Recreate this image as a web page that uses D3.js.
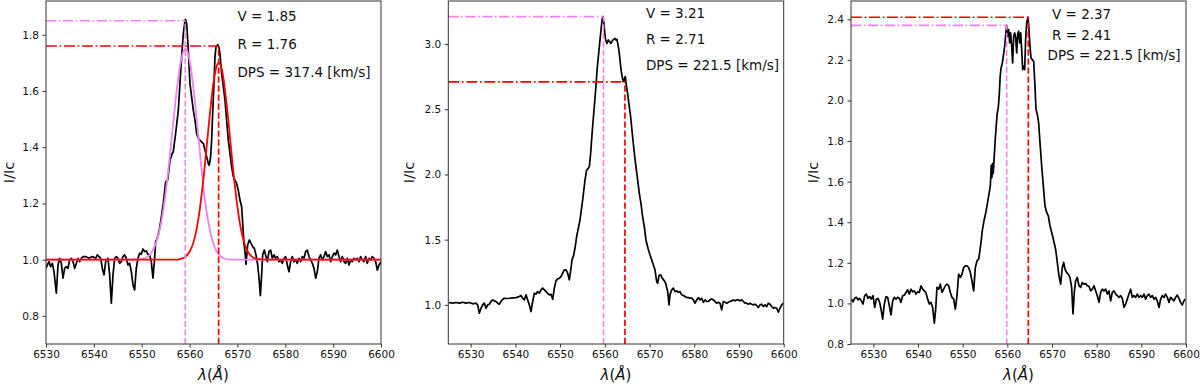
<!DOCTYPE html>
<html>
<head>
<meta charset="utf-8">
<script src="https://cdn.jsdelivr.net/npm/d3@7"></script>
<style>
  body { margin: 0; background: #fff; }
  svg text { font-family: "DejaVu Sans", sans-serif; fill: #111; }
</style>
</head>
<body>
<div id="chart"></div>
<script>
var spectrum1 = [[6530.0,0.969],[6530.28,0.981],[6530.63,0.993],[6530.97,0.975],[6531.32,0.987],[6531.67,0.957],[6532.16,0.881],[6532.51,0.981],[6532.86,1.005],[6533.2,0.987],[6533.55,0.934],[6533.9,0.969],[6534.25,0.975],[6534.6,0.969],[6534.94,0.999],[6535.29,1.005],[6535.64,0.993],[6535.99,0.969],[6536.34,0.987],[6536.69,1.005],[6537.03,0.993],[6537.38,1.005],[6537.73,1.011],[6538.29,1.011],[6538.98,1.005],[6539.68,1.011],[6540.38,1.005],[6540.72,1.017],[6541.07,1.011],[6541.42,1.005],[6541.77,0.969],[6542.12,0.946],[6542.47,0.993],[6542.95,1.005],[6543.3,0.946],[6543.65,0.845],[6544.0,0.946],[6544.35,1.005],[6544.69,1.011],[6545.04,1.005],[6545.39,0.987],[6545.74,0.993],[6546.09,1.011],[6546.43,1.017],[6546.78,1.005],[6547.13,0.981],[6547.48,0.987],[6547.83,0.957],[6548.18,0.91],[6548.52,0.892],[6548.87,0.969],[6549.22,1.005],[6549.57,1.023],[6549.92,1.019],[6550.26,1.038],[6550.61,1.029],[6550.96,1.031],[6551.31,1.019],[6551.66,1.017],[6552.0,0.993],[6552.35,0.934],[6552.7,1.005],[6552.91,1.064],[6553.26,1.076],[6553.61,1.1],[6554.0,1.14],[6554.51,1.2],[6555.0,1.277],[6555.42,1.283],[6555.91,1.354],[6556.39,1.378],[6556.6,1.384],[6557.09,1.449],[6557.65,1.532],[6557.99,1.626],[6558.34,1.721],[6558.69,1.804],[6559.0,1.845],[6559.15,1.855],[6559.4,1.84],[6559.74,1.745],[6560.08,1.626],[6560.43,1.579],[6560.78,1.532],[6561.13,1.496],[6561.48,1.449],[6561.82,1.431],[6562.17,1.425],[6562.52,1.419],[6562.87,1.413],[6563.22,1.39],[6563.57,1.366],[6563.91,1.342],[6564.12,1.336],[6564.4,1.366],[6564.61,1.425],[6564.82,1.52],[6565.1,1.626],[6565.31,1.721],[6565.52,1.757],[6565.9,1.765],[6566.2,1.75],[6566.35,1.733],[6566.7,1.662],[6567.05,1.615],[6567.4,1.567],[6567.74,1.496],[6568.09,1.425],[6568.44,1.378],[6568.79,1.33],[6569.14,1.295],[6569.48,1.283],[6569.83,1.271],[6570.18,1.247],[6570.53,1.212],[6570.88,1.188],[6571.1,1.13],[6571.35,1.06],[6571.58,1.028],[6571.79,0.983],[6572.14,1.052],[6572.49,1.07],[6572.84,1.058],[6573.18,1.046],[6573.53,1.04],[6573.88,1.017],[6574.23,0.981],[6574.58,0.922],[6574.79,0.872],[6575.06,0.946],[6575.27,1.017],[6575.62,1.034],[6575.97,1.011],[6576.25,0.993],[6576.6,1.029],[6576.94,1.034],[6577.29,1.005],[6577.64,1.017],[6577.99,1.005],[6578.34,1.011],[6578.69,0.993],[6579.03,0.999],[6579.38,0.987],[6579.73,1.005],[6580.08,1.011],[6580.43,0.981],[6580.77,0.957],[6581.12,0.993],[6581.47,1.011],[6581.82,0.993],[6582.17,0.999],[6582.51,0.987],[6582.86,1.005],[6583.21,0.993],[6583.56,1.011],[6583.91,1.005],[6584.26,1.029],[6584.6,1.034],[6584.95,1.011],[6585.3,0.999],[6585.65,0.987],[6586.0,0.969],[6586.35,0.934],[6586.69,0.957],[6587.04,1.005],[6587.39,1.017],[6587.74,0.999],[6588.09,1.011],[6588.43,1.029],[6588.78,1.011],[6589.13,1.017],[6589.48,0.993],[6589.83,1.011],[6590.18,1.023],[6590.52,1.017],[6590.87,1.034],[6591.22,1.011],[6591.57,0.993],[6591.92,1.011],[6592.27,0.993],[6592.61,0.987],[6592.96,1.005],[6593.31,0.981],[6593.66,0.999],[6594.01,0.993],[6594.35,1.005],[6594.7,0.999],[6595.05,1.005],[6595.4,0.993],[6595.75,1.011],[6596.1,0.999],[6596.44,0.993],[6596.79,1.011],[6597.14,0.987],[6597.49,1.005],[6597.84,0.999],[6598.18,1.011],[6598.53,1.005],[6598.88,0.993],[6599.23,0.963],[6599.58,0.981],[6600.0,0.993]];

var spectrum2 = [[6525.08,1.018],[6525.98,1.013],[6526.72,1.018],[6527.47,1.013],[6528.21,1.02],[6528.96,1.013],[6529.7,1.018],[6530.45,1.008],[6531.19,1.013],[6531.57,1.0],[6531.94,0.936],[6532.31,0.974],[6532.68,1.0],[6533.06,1.013],[6533.43,0.974],[6533.8,1.0],[6534.18,1.005],[6534.55,1.026],[6534.92,1.038],[6535.29,1.031],[6535.67,1.026],[6536.04,1.013],[6536.41,1.005],[6536.78,1.026],[6537.16,1.043],[6537.53,1.051],[6537.9,1.049],[6538.65,1.051],[6539.39,1.054],[6540.14,1.056],[6540.88,1.064],[6541.26,1.072],[6541.63,1.051],[6542.0,1.038],[6542.38,1.077],[6542.75,1.038],[6543.12,1.0],[6543.49,0.949],[6543.87,1.026],[6544.24,1.089],[6544.61,1.082],[6544.98,1.102],[6545.36,1.089],[6545.73,1.115],[6546.1,1.128],[6546.47,1.115],[6546.85,1.102],[6547.22,1.089],[6547.59,1.077],[6547.97,1.082],[6548.34,1.043],[6548.71,1.128],[6549.08,1.184],[6549.46,1.199],[6549.83,1.204],[6550.2,1.217],[6550.57,1.243],[6550.95,1.268],[6551.32,1.268],[6551.69,1.243],[6552.06,1.192],[6552.44,1.281],[6552.66,1.345],[6553.0,1.376],[6553.33,1.434],[6553.7,1.524],[6554.45,1.651],[6555.05,1.805],[6555.57,1.958],[6555.94,2.034],[6556.31,2.047],[6556.54,2.06],[6556.83,2.162],[6557.21,2.341],[6557.58,2.494],[6557.95,2.648],[6558.33,2.826],[6558.7,2.954],[6559.07,3.082],[6559.37,3.184],[6559.6,3.21],[6559.8,3.158],[6560.0,3.082],[6560.19,3.031],[6560.48,3.005],[6560.78,3.031],[6561.08,3.018],[6561.38,3.005],[6561.68,3.026],[6561.98,3.036],[6562.28,3.043],[6562.5,3.031],[6562.72,3.036],[6563.02,2.98],[6563.24,2.928],[6563.47,2.852],[6563.69,2.788],[6563.91,2.745],[6564.13,2.711],[6564.36,2.729],[6564.58,2.75],[6564.8,2.686],[6565.09,2.622],[6565.47,2.52],[6565.77,2.443],[6566.14,2.315],[6566.52,2.188],[6566.96,2.06],[6567.34,1.958],[6567.71,1.856],[6568.08,1.779],[6568.45,1.677],[6568.83,1.6],[6569.2,1.498],[6569.65,1.434],[6570.11,1.383],[6570.48,1.345],[6570.85,1.307],[6571.22,1.268],[6571.6,1.179],[6571.82,1.166],[6572.12,1.225],[6572.49,1.23],[6572.86,1.204],[6573.31,1.184],[6573.61,1.166],[6573.83,1.133],[6574.06,1.102],[6574.36,1.0],[6574.58,1.077],[6574.95,1.115],[6575.32,1.128],[6575.7,1.102],[6576.07,1.107],[6576.44,1.097],[6576.81,1.102],[6577.19,1.077],[6577.56,1.072],[6577.93,1.064],[6578.31,1.056],[6578.68,1.056],[6579.05,1.051],[6579.42,1.051],[6579.8,1.038],[6580.17,1.013],[6580.54,1.038],[6580.92,1.056],[6581.29,1.038],[6581.66,1.051],[6582.03,1.02],[6582.41,1.038],[6582.78,1.026],[6583.15,1.026],[6583.52,1.038],[6583.9,1.046],[6584.27,1.038],[6584.64,1.026],[6585.01,1.013],[6585.39,1.02],[6585.76,1.013],[6586.13,0.962],[6586.5,1.026],[6586.88,1.02],[6587.25,1.013],[6587.62,1.02],[6587.99,1.026],[6588.37,1.031],[6588.74,1.038],[6589.11,1.031],[6589.49,1.038],[6589.86,1.038],[6590.23,1.031],[6590.6,1.038],[6590.98,1.026],[6591.35,1.013],[6591.72,1.013],[6592.09,1.005],[6592.47,1.013],[6592.84,1.005],[6593.21,1.0],[6593.59,1.005],[6593.96,0.995],[6594.33,0.98],[6594.7,1.0],[6595.08,1.005],[6595.45,0.987],[6595.82,1.0],[6596.19,0.987],[6596.57,1.013],[6596.94,1.005],[6597.31,0.987],[6597.69,0.974],[6598.06,0.98],[6598.43,0.974],[6598.8,0.944],[6599.18,0.974],[6599.55,1.0],[6599.92,1.013]];

var spectrum3 = [[6525.15,1.021],[6525.45,1.008],[6525.82,1.025],[6526.19,1.03],[6526.57,1.018],[6526.94,1.025],[6527.31,1.013],[6527.69,0.997],[6528.06,1.038],[6528.43,1.046],[6528.81,1.025],[6529.18,1.034],[6529.55,1.021],[6529.93,1.038],[6530.3,0.98],[6530.67,1.021],[6531.04,1.025],[6531.42,1.005],[6531.79,0.964],[6532.09,0.923],[6532.46,0.997],[6532.84,1.033],[6533.21,1.03],[6533.58,0.989],[6533.96,0.943],[6534.33,1.013],[6534.7,1.03],[6535.07,1.021],[6535.45,1.03],[6535.82,1.025],[6536.19,1.005],[6536.57,1.038],[6536.94,1.041],[6537.31,1.054],[6537.69,1.067],[6538.06,1.046],[6538.43,1.07],[6538.81,1.057],[6539.18,1.062],[6539.55,1.046],[6539.93,1.057],[6540.3,1.054],[6540.67,1.087],[6541.04,1.07],[6541.42,1.062],[6541.79,1.051],[6542.16,1.021],[6542.54,0.997],[6542.91,1.005],[6543.28,0.98],[6543.66,0.903],[6543.96,0.972],[6544.25,1.079],[6544.63,1.07],[6545.0,1.095],[6545.37,1.054],[6545.75,1.07],[6546.12,1.087],[6546.49,1.095],[6546.87,1.087],[6547.24,1.054],[6547.61,1.03],[6547.99,1.021],[6548.36,0.972],[6548.73,1.038],[6549.1,1.144],[6549.48,1.128],[6549.85,1.144],[6550.22,1.177],[6550.6,1.185],[6550.97,1.185],[6551.34,1.177],[6551.72,1.152],[6552.09,1.111],[6552.46,1.062],[6552.84,1.177],[6553.21,1.21],[6553.58,1.218],[6553.81,1.251],[6554.1,1.3],[6554.4,1.36],[6554.8,1.41],[6555.2,1.45],[6555.6,1.5],[6555.9,1.54],[6556.2,1.58],[6556.4,1.68],[6556.55,1.62],[6556.7,1.69],[6556.85,1.64],[6557.0,1.7],[6557.3,1.81],[6557.7,1.93],[6558.0,1.97],[6558.2,2.03],[6558.4,2.12],[6558.6,2.16],[6558.88,2.185],[6559.1,2.218],[6559.4,2.267],[6559.7,2.341],[6559.85,2.37],[6560.07,2.316],[6560.3,2.349],[6560.52,2.284],[6560.75,2.333],[6560.97,2.267],[6561.19,2.185],[6561.42,2.316],[6561.64,2.333],[6561.87,2.308],[6562.09,2.234],[6562.31,2.325],[6562.54,2.341],[6562.76,2.284],[6562.99,2.333],[6563.21,2.251],[6563.43,2.152],[6563.66,2.169],[6563.88,2.152],[6564.1,2.3],[6564.33,2.382],[6564.63,2.41],[6564.85,2.349],[6565.07,2.267],[6565.3,2.21],[6565.6,2.2],[6565.9,2.193],[6566.19,2.07],[6566.42,1.956],[6566.72,1.931],[6567.01,1.89],[6567.31,1.792],[6567.69,1.677],[6568.06,1.579],[6568.43,1.48],[6568.81,1.448],[6569.18,1.431],[6569.55,1.382],[6569.93,1.349],[6570.3,1.316],[6570.81,1.267],[6571.19,1.202],[6571.56,1.136],[6571.93,1.095],[6572.31,1.177],[6572.61,1.202],[6572.9,1.169],[6573.28,1.152],[6573.65,1.144],[6574.02,1.128],[6574.4,1.079],[6574.7,0.948],[6574.99,1.054],[6575.29,1.111],[6575.66,1.128],[6576.04,1.087],[6576.41,1.079],[6576.78,1.103],[6577.16,1.095],[6577.53,1.098],[6577.9,1.087],[6578.28,1.084],[6578.65,1.062],[6579.02,1.07],[6579.4,1.087],[6579.77,1.062],[6580.14,1.038],[6580.52,1.005],[6580.89,1.054],[6581.26,1.07],[6581.64,1.062],[6582.01,1.07],[6582.38,1.046],[6582.75,1.062],[6583.13,1.013],[6583.5,1.054],[6583.87,1.062],[6584.25,1.046],[6584.62,1.038],[6584.99,1.03],[6585.37,1.038],[6585.74,1.025],[6586.11,0.98],[6586.49,0.997],[6586.86,1.021],[6587.23,1.046],[6587.61,1.07],[6587.98,1.03],[6588.35,1.038],[6588.72,1.03],[6589.1,1.046],[6589.47,1.03],[6589.84,1.038],[6590.22,1.03],[6590.59,1.046],[6590.96,1.021],[6591.34,1.038],[6591.71,1.046],[6592.08,1.03],[6592.46,1.038],[6592.83,1.021],[6593.2,1.03],[6593.57,1.013],[6593.95,0.98],[6594.32,1.021],[6594.69,1.038],[6595.07,1.03],[6595.44,1.046],[6595.81,1.03],[6596.19,1.005],[6596.56,1.03],[6596.93,1.021],[6597.31,1.013],[6597.68,1.03],[6598.05,1.041],[6598.43,1.025],[6598.8,1.005],[6599.17,0.992],[6599.55,1.013],[6599.84,1.021]];

// Fitted V and R components (first panel only).
var fitV1 = [[6530,1.0],[6548,1.0],[6550,1.003],[6551,1.008],[6552,1.024],[6553,1.059],[6554,1.126],[6555,1.237],[6556,1.388],[6557,1.554],[6558,1.69],[6558.6,1.735],[6559.1,1.75],[6559.6,1.738],[6560,1.71],[6561,1.58],[6562,1.41],[6563,1.24],[6564,1.125],[6565,1.055],[6566,1.02],[6567,1.006],[6568,1.001],[6570,1.0],[6600,1.0]];
var fitR1 = [[6530,1.0],[6557,1.0],[6558,1.002],[6559,1.009],[6560,1.028],[6561,1.073],[6562,1.163],[6563,1.304],[6564,1.477],[6565,1.63],[6565.6,1.685],[6566.1,1.7],[6566.6,1.686],[6567,1.653],[6568,1.512],[6569,1.337],[6570,1.187],[6571,1.087],[6572,1.034],[6573,1.011],[6574,1.003],[6575,1.001],[6577,1.0],[6600,1.0]];

// Peak values and positions per panel.
var vPeak = [1.85, 3.21, 2.37];
var rPeak = [1.76, 2.71, 2.41];
var vWave = [6559.1, 6559.7, 6559.85];
var rWave = [6566.07, 6564.5, 6564.7];
var dps = [317.4, 221.5, 221.5];

var xTicks = [6530, 6540, 6550, 6560, 6570, 6580, 6590, 6600];
var yTicks1 = [0.8, 1.0, 1.2, 1.4, 1.6, 1.8];
var yTicks2 = [1.0, 1.5, 2.0, 2.5, 3.0];
var yTicks3 = [0.8, 1.0, 1.2, 1.4, 1.6, 1.8, 2.0, 2.2, 2.4];

var W = 1200, H = 384;
var svg = d3.select("#chart").append("svg").attr("width", W).attr("height", H);

var VIOLET = "#ee82ee", RED = "#ff0000";

var panels = [
  {spec: spectrum1, fitV: fitV1, fitR: fitR1, left: 46, right: 381, xDomain: [6530, 6600],
   yDomain: [0.70, 1.92], yTicks: yTicks1, ylabelX: 9, textX: [6570, 6570, 6570], textY: [1.85, 1.75, 1.65]},
  {spec: spectrum2, left: 448.3, right: 783.7, xDomain: [6525, 6600],
   yDomain: [0.70, 3.33], yTicks: yTicks2, ylabelX: 409, textX: [6569.2, 6569.2, 6569.2], textY: [3.2, 3.0, 2.8]},
  {spec: spectrum3, left: 851, right: 1186, xDomain: [6525, 6600],
   yDomain: [0.80, 2.49], yTicks: yTicks3, ylabelX: 813, textX: [6570, 6570, 6569], textY: [2.4, 2.3, 2.2]}
];

var plotTop = 1, plotBottom = 344;

function drawPanel(p, i) {
  var x = d3.scaleLinear().domain(p.xDomain).range([p.left, p.right]);
  var y = d3.scaleLinear().domain(p.yDomain).range([plotBottom, plotTop]);
  var g = svg.append("g");

  g.append("clipPath").attr("id", "clip" + i)
    .append("rect").attr("x", p.left).attr("y", plotTop)
    .attr("width", p.right - p.left).attr("height", plotBottom - plotTop);

  var plot = g.append("g").attr("clip-path", "url(#clip" + i + ")");
  var line = d3.line().x(function(d){ return x(d[0]); }).y(function(d){ return y(d[1]); });
  var smooth = d3.line().curve(d3.curveMonotoneX)
    .x(function(d){ return x(d[0]); }).y(function(d){ return y(d[1]); });

  plot.append("path").datum(p.spec).attr("d", line)
    .attr("fill", "none").attr("stroke", "#000").attr("stroke-width", 1.7)
    .attr("stroke-linejoin", "round");

  if (p.fitV) {
    plot.append("path").datum(p.fitV).attr("d", smooth)
      .attr("fill", "none").attr("stroke", VIOLET).attr("stroke-width", 1.8);
    plot.append("path").datum(p.fitR).attr("d", smooth)
      .attr("fill", "none").attr("stroke", RED).attr("stroke-width", 1.8);
  }

  // peak markers: dash-dot horizontal from the left edge, dashed vertical from the bottom
  var marks = [
    {w: vWave[i], v: vPeak[i], c: VIOLET, lw: 1.6},
    {w: rWave[i], v: rPeak[i], c: RED, lw: 1.7}
  ];
  marks.forEach(function(m){
    plot.append("line")
      .attr("x1", x(p.xDomain[0])).attr("x2", x(m.w))
      .attr("y1", y(m.v)).attr("y2", y(m.v))
      .attr("stroke", m.c).attr("stroke-width", m.lw)
      .attr("stroke-dasharray", [6.4*m.lw, 1.6*m.lw, m.lw, 1.6*m.lw].join(","));
    plot.append("line")
      .attr("x1", x(m.w)).attr("x2", x(m.w))
      .attr("y1", y(p.yDomain[0])).attr("y2", y(m.v))
      .attr("stroke", m.c).attr("stroke-width", m.lw)
      .attr("stroke-dasharray", [3.7*m.lw, 1.6*m.lw].join(","));
  });

  // frame
  g.append("rect").attr("x", p.left).attr("y", plotTop)
    .attr("width", p.right - p.left).attr("height", plotBottom - plotTop)
    .attr("fill", "none").attr("stroke", "#333").attr("stroke-width", 1);

  var xAxis = g.append("g").attr("transform", "translate(0," + plotBottom + ")")
    .call(d3.axisBottom(x).tickValues(xTicks).tickFormat(d3.format("d"))
      .tickSize(3.5).tickPadding(3.5));
  var yAxis = g.append("g").attr("transform", "translate(" + p.left + ",0)")
    .call(d3.axisLeft(y).tickValues(p.yTicks).tickFormat(d3.format(".1f"))
      .tickSize(3.5).tickPadding(3.5));
  [xAxis, yAxis].forEach(function(a){
    a.select(".domain").remove();
    a.selectAll("line").attr("stroke", "#333");
    a.selectAll("text").attr("font-size", 10.5).attr("font-family", "DejaVu Sans").attr("fill", "#111");
  });

  // axis labels
  g.append("text")
    .attr("transform", "translate(" + p.ylabelX + "," + ((plotTop + plotBottom) / 2) + ") rotate(-90)")
    .attr("text-anchor", "middle").attr("dominant-baseline", "central")
    .attr("font-size", 14.5).text("I/Ic");
  var xl = g.append("text").attr("x", (p.left + p.right) / 2).attr("y", 380)
    .attr("text-anchor", "middle").attr("font-size", 15);
  xl.append("tspan").attr("font-style", "italic").text("λ");
  xl.append("tspan").text("(");
  xl.append("tspan").attr("font-style", "italic").text("Å");
  xl.append("tspan").text(")");

  // annotations
  var labels = [
    "V = " + vPeak[i].toFixed(2),
    "R = " + rPeak[i].toFixed(2),
    "DPS = " + dps[i].toFixed(1) + " [km/s]"
  ];
  labels.forEach(function(t, k){
    g.append("text").attr("x", x(p.textX[k])).attr("y", y(p.textY[k]))
      .attr("font-size", 13.5).text(t);
  });
}

panels.forEach(drawPanel);
</script>
</body>
</html>
